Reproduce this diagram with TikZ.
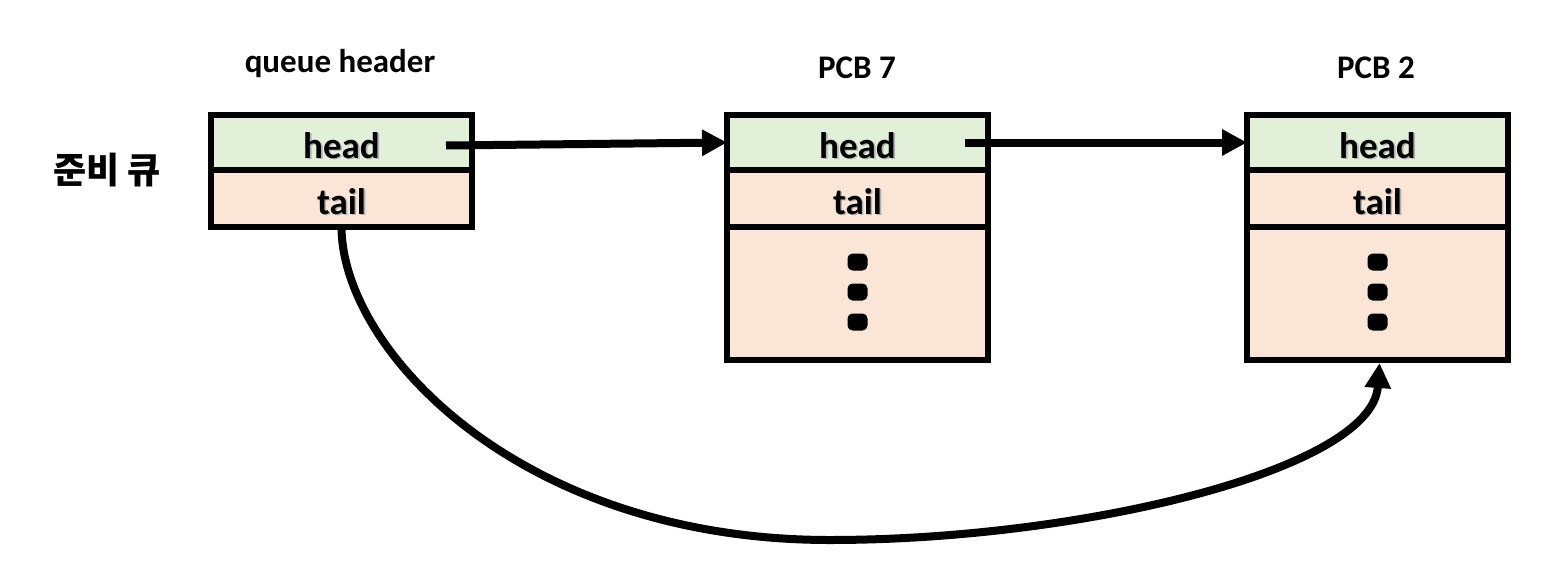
\documentclass[tikz,border=0pt]{standalone}
\usepackage{fontspec}
\setmainfont{Carlito}
\newfontfamily\kr{Noto Sans CJK KR}
\usetikzlibrary{arrows.meta,calc}
\definecolor{headfill}{HTML}{E2F0D9}
\definecolor{tailfill}{HTML}{FBE5D6}
\newcommand\shtext[1]{\leavevmode\rlap{\raisebox{-1.6pt}{\kern1.6pt\textcolor{black!30}{#1}}}#1}
\tikzset{
  cell/.style={draw=black, line width=6pt, minimum width=261pt, inner sep=0pt, outer sep=0pt,
     font=\fontsize{37}{42}\selectfont\bfseries, text height=31pt, text depth=0pt},
  headcell/.style={cell, fill=headfill, minimum height=55pt},
  tailcell/.style={cell, fill=tailfill, minimum height=57pt},
  restcell/.style={cell, fill=tailfill, minimum height=133pt},
  title/.style={font=\fontsize{33}{38}\selectfont\bfseries, inner sep=0pt},
  ptr/.style={line width=8pt, -{Triangle[length=25pt,width=25pt]}},
  dotmark/.style={fill=black, rounded corners=5pt, minimum width=20pt, minimum height=17pt, inner sep=0pt}
}
\begin{document}
\begin{tikzpicture}[x=1pt,y=-1pt]
\useasboundingbox (0,0) rectangle (1546,570);
\fill[white] (0,0) rectangle (1546,570);
% titles
\node[title] (tq) at (340,64) {queue header};
\node[title] (t7) at (857,68) {PCB 7};
\node[title] (t2) at (1376,68) {PCB 2};
\node[font=\kr\bfseries\fontsize{36}{40}\selectfont, inner sep=0pt] (rq) at (107,170) {준비 큐};
% queue header
\node[headcell, anchor=north west] (qhead) at (211,115) {\shtext{head}};
\node[tailcell, anchor=north] (qtail) at (qhead.south) {\shtext{tail}};
% PCB 7
\node[headcell, anchor=north west] (ahead) at (727,115) {\shtext{head}};
\node[tailcell, anchor=north] (atail) at (ahead.south) {\shtext{tail}};
\node[restcell, anchor=north] (arest) at (atail.south) {};
% PCB 2
\node[headcell, anchor=north west] (bhead) at (1247,115) {\shtext{head}};
\node[tailcell, anchor=north] (btail) at (bhead.south) {\shtext{tail}};
\node[restcell, anchor=north] (brest) at (btail.south) {};
% dots
\foreach \b in {a,b}{
  \node[dotmark] (\b d1) at ($(\b rest.north)+(0,35)$) {};
  \node[dotmark] (\b d2) at ($(\b rest.north)+(0,65)$) {};
  \node[dotmark] (\b d3) at ($(\b rest.north)+(0,95)$) {};
}
% pointers
\coordinate (qs) at ($(qhead.east)+(-26,3)$);
\coordinate (as) at ($(ahead.east)+(-23,0)$);
\draw[ptr] (qs) -- (ahead.west);
\draw[ptr] (as) -- (bhead.west);
\coordinate (bot) at (830,540);
\draw[ptr] (qtail.south) .. controls (342,350) and (520,540) .. (bot)
  .. controls (1080,540) and (1372,470) .. ($(brest.south)+(2,3)$);
\end{tikzpicture}
\end{document}
